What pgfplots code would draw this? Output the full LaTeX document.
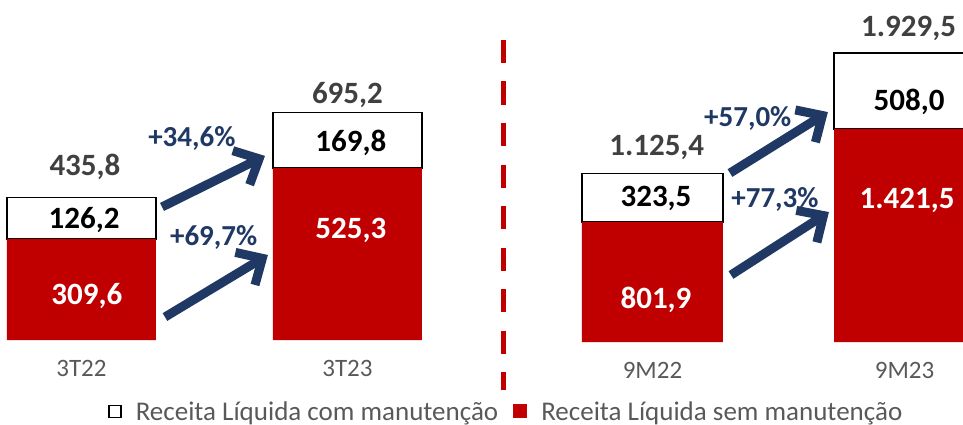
\documentclass[border=0pt]{standalone}
\usepackage{pgfplots}
\pgfplotsset{compat=1.18}
\usepackage{fontspec}
\setmainfont{Carlito}
\usetikzlibrary{arrows.meta}
\definecolor{cred}{HTML}{C00000}
\definecolor{navy}{HTML}{1F3864}
\definecolor{tot}{HTML}{404040}
\definecolor{tgray}{HTML}{595959}
\tikzset{
  valbig/.style={font=\fontsize{31}{36}\selectfont\bfseries},
  pct/.style={font=\fontsize{29}{34}\selectfont\bfseries, text=navy},
  garrow/.style={draw=navy, line width=9pt, -{Straight Barb[length=20pt,width=38pt]}},
  redbar/.style={fill=cred, draw=none},
  whitebar/.style={fill=white, draw=black, line width=1.5pt}
}
\pgfplotsset{
  myaxis/.style={scale only axis, ybar stacked, axis line style={draw=none},
    tick style={draw=none}, major tick length=0pt, ytick=\empty, xtick={0,1}, ymin=0,
    xticklabel style={font=\fontsize{25}{30}\selectfont, text=tgray, yshift=-17pt}}
}
\begin{document}
\begin{tikzpicture}[x=1pt,y=1pt]
\useasboundingbox (0,0) rectangle (963,424);
\begin{axis}[myaxis, at={(0pt,84pt)}, anchor=south west, width=480pt, height=340pt,
  xmin=-0.3064, xmax=1.4985, ymax=1039.8, bar width=149pt, xticklabels={3T22,3T23},
  legend columns=2,
  legend style={draw=none, fill=none, at={(1.055,-0.21)}, anchor=center,
    font=\fontsize{27}{30}\selectfont, text=tgray,
    /tikz/every odd column/.append style={column sep=12pt},
    /tikz/every even column/.append style={column sep=13pt}}]
\addlegendimage{legend image code/.code={\draw[black, fill=white, line width=1.3pt] (0pt,-6pt) rectangle (12pt,6pt);}}
\addlegendentry{Receita Líquida com manutenção}
\addlegendimage{legend image code/.code={\draw[cred!80!red, fill=cred, line width=1pt] (0pt,-6.5pt) rectangle (13pt,6.5pt);}}
\addlegendentry{Receita Líquida sem manutenção}
\addplot[redbar, forget plot] coordinates {(0,309.6) (1,525.3)};
\addplot[whitebar, forget plot] coordinates {(0,126.2) (1,169.8)};
\coordinate (L1) at (axis cs:0.02,134.6);
\coordinate (L2) at (axis cs:0.01,367);
\coordinate (L3) at (axis cs:1.013,336);
\coordinate (L4) at (axis cs:1.013,604);
\node[valbig, text=tot] at (axis cs:0.013,529) {435,8};
\node[valbig, text=tot] at (axis cs:1.0,749) {695,2};
\draw[garrow] (axis cs:0.303,407) -- (axis cs:0.690,563);
\draw[garrow] (axis cs:0.314,70.3) -- (axis cs:0.701,260);
\node[pct] at (axis cs:0.415,615) {+34,6\%};
\node[pct] at (axis cs:0.497,313) {+69,7\%};
\end{axis}
\begin{axis}[myaxis, at={(503pt,82pt)}, anchor=south west, width=460pt, height=342pt,
  xmin=-0.593, xmax=1.232, ymax=2281.5, bar width=141pt, xticklabels={9M22,9M23}]
\addplot[redbar] coordinates {(0,801.9) (1,1421.5)};
\addplot[whitebar] coordinates {(0,323.5) (1,508.0)};
\coordinate (R1) at (axis cs:0.014,280);
\coordinate (R2) at (axis cs:0.014,960);
\coordinate (R3) at (axis cs:1.01,947);
\coordinate (R4) at (axis cs:1.018,1603);
\node[valbig, text=tot] at (axis cs:0.017,1297) {1.125,4};
\node[valbig, text=tot] at (axis cs:1.016,2095) {1.929,5};
\draw[garrow] (axis cs:0.3075,1127) -- (axis cs:0.696,1534);
\draw[garrow] (axis cs:0.3115,447) -- (axis cs:0.700,867);
\node[pct] at (axis cs:0.378,1488) {+57,0\%};
\node[pct] at (axis cs:0.486,954) {+77,3\%};
\end{axis}
\node[valbig, text=white] at (L1) {309,6};
\node[valbig, text=black] at (L2) {126,2};
\node[valbig, text=white] at (L3) {525,3};
\node[valbig, text=black] at (L4) {169,8};
\node[valbig, text=white] at (R1) {801,9};
\node[valbig, text=black] at (R2) {323,5};
\node[valbig, text=white] at (R3) {1.421,5};
\node[valbig, text=black] at (R4) {508,0};
\draw[cred, line width=5pt, dash pattern=on 23pt off 18.5pt] (503,384) -- (503,34);
\end{tikzpicture}
\end{document}
